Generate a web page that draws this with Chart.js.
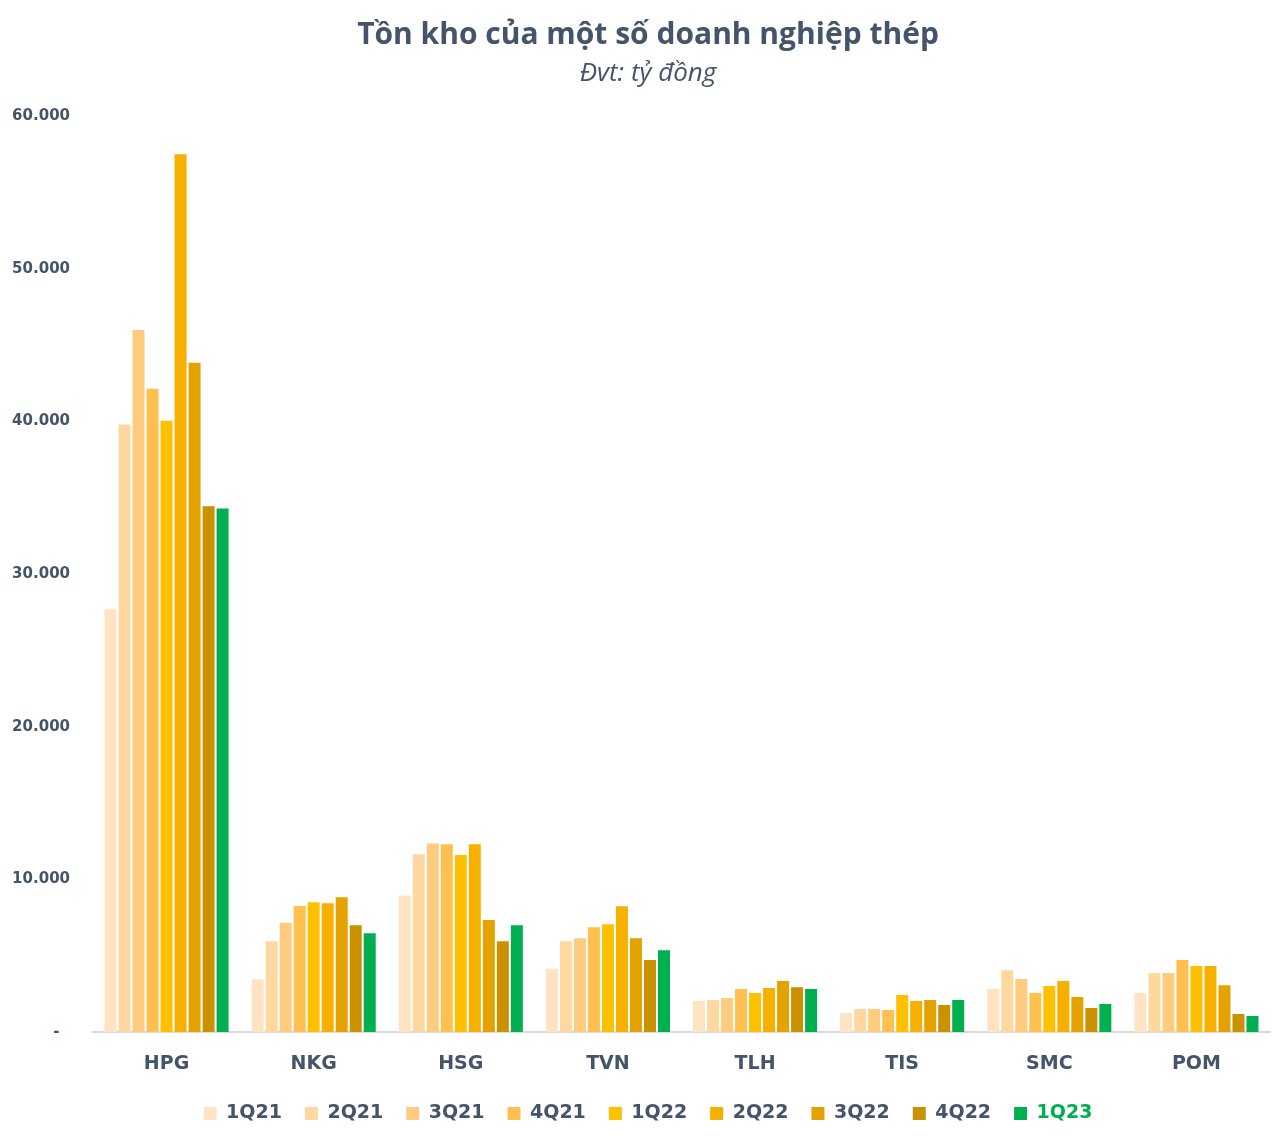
<!DOCTYPE html>
<html>
<head>
<meta charset="utf-8">
<script src="https://cdn.jsdelivr.net/npm/chart.js@4"></script>
<style>
    html, body { margin: 0; padding: 0; background: #ffffff; }
    #wrap { width: 1288px; height: 1144px; }
</style>
</head>
<body>
<div id="wrap"><canvas id="stockChart" width="1288" height="1144"></canvas></div>
<script>
// Tồn kho (tỷ đồng)
const companies = ['HPG', 'NKG', 'HSG', 'TVN', 'TLH', 'TIS', 'SMC', 'POM'];
const quarters = ['1Q21', '2Q21', '3Q21', '4Q21', '1Q22', '2Q22', '3Q22', '4Q22', '1Q23'];

const q1_21 = [27700, 3450, 8950, 4120, 2030, 1240, 2810, 2550];
const q2_21 = [39800, 5950, 11650, 5950, 2090, 1500, 4050, 3860];
const q3_21 = [46000, 7150, 12350, 6150, 2220, 1500, 3470, 3860];
const q4_21 = [42150, 8250, 12300, 6870, 2810, 1440, 2550, 4710];
const q1_22 = [40050, 8500, 11600, 7060, 2550, 2420, 3010, 4320];
const q2_22 = [57500, 8440, 12300, 8240, 2880, 2030, 3340, 4320];
const q3_22 = [43850, 8830, 7330, 6150, 3340, 2090, 2290, 3070];
const q4_22 = [34450, 7000, 5950, 4710, 2940, 1770, 1570, 1180];
const q1_23 = [34300, 6470, 7000, 5360, 2810, 2090, 1830, 1050];

const seriesValues = [q1_21, q2_21, q3_21, q4_21, q1_22, q2_22, q3_22, q4_22, q1_23];
const barColors = ['#FFE3C3', '#FFD8A0', '#FFCB7E', '#FFC04F', '#FFC000', '#F7AF00', '#E3A200', '#CA9100', '#00B050'];

const yTicks = [0, 10000, 20000, 30000, 40000, 50000, 60000];

const textColor = '#44546A';
const labelFont = 'DejaVu Sans';

function formatVN(v) {
    if (v === 0) return '-\u2007';
    return String(v).replace(/\B(?=(\d{3})+(?!\d))/g, '.');
}

const ctx = document.getElementById('stockChart').getContext('2d');

const chart = new Chart(ctx, {
    type: 'bar',
    data: {
        labels: companies,
        datasets: quarters.map((q, i) => ({
            label: q,
            data: seriesValues[i],
            backgroundColor: barColors[i],
            borderWidth: 0,
            categoryPercentage: 0.857,
            barPercentage: 0.857
        }))
    },
    options: {
        responsive: false,
        animation: false,
        layout: {
            padding: { left: 8, right: 0, top: 0, bottom: 11 }
        },
        plugins: {
            title: {
                display: true,
                text: 'Tồn kho của một số doanh nghiệp thép',
                color: textColor,
                font: { family: 'Open Sans', size: 30, weight: 'bold' },
                padding: { top: 17, bottom: 0 }
            },
            subtitle: {
                display: true,
                text: 'Đvt: tỷ đồng',
                color: textColor,
                font: { family: 'Open Sans', size: 26, style: 'italic' },
                padding: { top: 5, bottom: 27 }
            },
            legend: {
                position: 'bottom',
                labels: {
                    boxWidth: 13,
                    boxHeight: 13,
                    padding: 23,
                    color: textColor,
                    font: { family: labelFont, size: 19, weight: 'bold' },
                    generateLabels: (c) => {
                        const items = Chart.defaults.plugins.legend.labels.generateLabels(c);
                        items.forEach(it => {
                            it.lineWidth = 0;
                            it.fontColor = it.text === '1Q23' ? '#00B050' : textColor;
                        });
                        return items;
                    }
                }
            },
            tooltip: { enabled: false }
        },
        scales: {
            x: {
                grid: { display: false, drawTicks: false },
                border: { display: true, color: '#D9D9D9', width: 2 },
                ticks: {
                    color: textColor,
                    padding: 21,
                    font: { family: labelFont, size: 19, weight: 'bold' }
                },
                afterFit: (s) => { s.height = 49; }
            },
            y: {
                min: 0,
                max: 60000,
                grid: { display: false, drawTicks: false },
                border: { display: false },
                afterBuildTicks: (s) => { s.ticks = yTicks.map(v => ({ value: v })); },
                ticks: {
                    color: textColor,
                    padding: 23,
                    font: { family: labelFont, size: 15, weight: 'bold' },
                    callback: (v) => formatVN(v)
                },
                afterFit: (s) => { s.width = 85; }
            },
            // khoảng trống bên phải
            yRight: {
                position: 'right',
                min: 0,
                max: 60000,
                grid: { display: false, drawTicks: false },
                border: { display: false },
                ticks: { display: false },
                afterFit: (s) => { s.width = 18; }
            }
        }
    }
});
</script>
</body>
</html>
